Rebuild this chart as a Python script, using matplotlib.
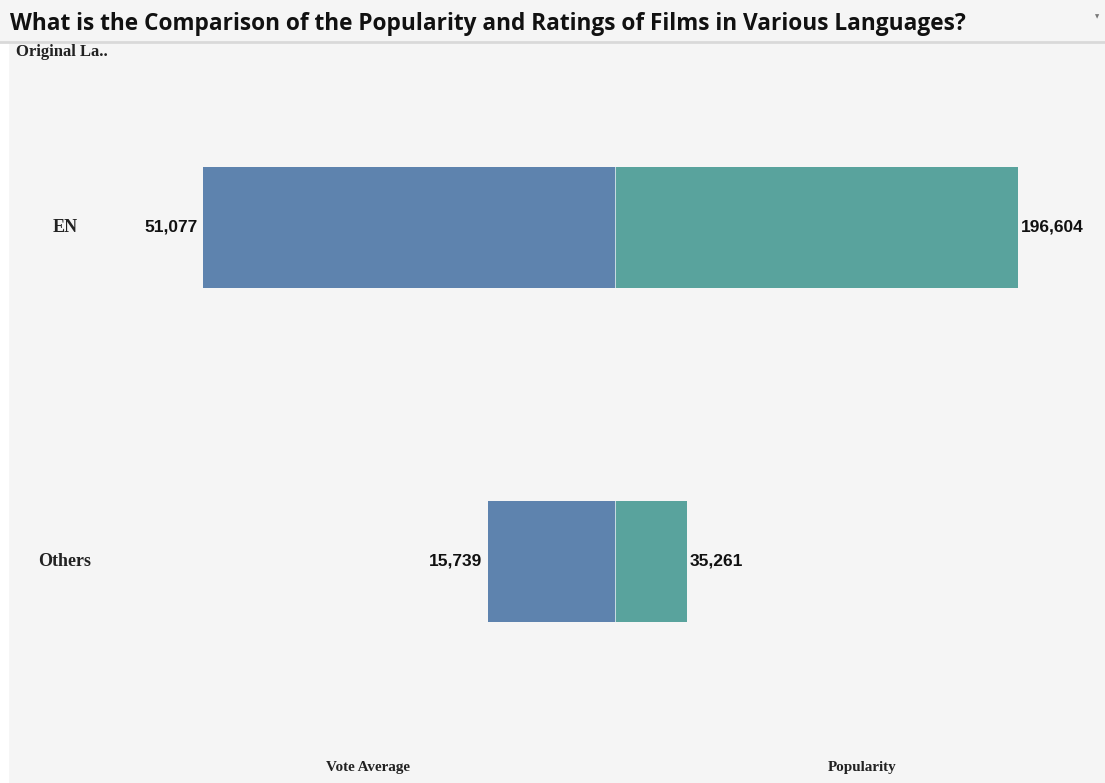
import matplotlib.pyplot as plt
import numpy as np

languages = ['EN', 'Others']
vote_average = [51077, 15739]
popularity = [196604, 35261]

W, H = 1105, 783
bg = '#f5f5f5'
blue = '#5e83ae'
teal = '#59a39d'

fig = plt.figure(figsize=(W / 100, H / 100), dpi=100, facecolor=bg)

def fx(px):
    return px / W

def fy(px):
    return 1 - px / H

# white strip on the left, under the title line
fig.patches.append(plt.Rectangle((0, 0), fx(8), fy(43), transform=fig.transFigure,
                                 color='white', zorder=0))
fig.add_artist(plt.Line2D([0, 1], [fy(42), fy(42)], color='#d9d9d9', lw=2))

fig.text(fx(10), fy(24), 'What is the Comparison of the Popularity and Ratings of Films in Various Languages?',
         fontsize=16.3, fontweight='bold', family='Open Sans', va='center', ha='left', color='#111111')
fig.text(fx(1097), fy(17), '\u25bc', fontsize=4, color='#777777', ha='center', va='center')
fig.text(fx(16), fy(52), 'Original La..', fontsize=12, fontweight='bold', family='Liberation Serif',
         va='center', ha='left', color='#222222')

center = 615
top, bottom = 45, 745
left_px, right_px = 120, 1100
pos = np.arange(len(languages))
row_px = 561.5 - 227.5
y_top = -(227.5 - top) / row_px
y_bot = 1 + (bottom - 561.5) / row_px
bar_h = 121 / row_px

axl = fig.add_axes([fx(left_px), fy(bottom), fx(center - left_px), (bottom - top) / H])
axr = fig.add_axes([fx(center), fy(bottom), fx(right_px - center), (bottom - top) / H])

scale_l = 412 / 51077
scale_r = 403 / 196604
axl.set_xlim((center - left_px) / scale_l, 0)
axr.set_xlim(0, (right_px - center) / scale_r)

for ax in (axl, axr):
    ax.set_facecolor('none')
    ax.set_ylim(y_bot, y_top)
    ax.set_xticks([])
    ax.set_yticks([])
    for s in ax.spines.values():
        s.set_visible(False)

axl.barh(pos, vote_average, height=bar_h, color=blue)
axr.barh(pos, popularity, height=bar_h, color=teal)
# thin light divider where the two bars meet
axr.vlines(np.zeros(len(pos)), pos - bar_h / 2, pos + bar_h / 2, color='#dde6ee', lw=1.2)

for p, v in zip(pos, vote_average):
    axl.annotate(f'{v:,}', (v, p), xytext=(-4, 0), textcoords='offset points', ha='right', va='center',
                 fontsize=12.5, fontweight='bold', family='Liberation Sans', color='#111111')
for p, v in zip(pos, popularity):
    axr.annotate(f'{v:,}', (v, p), xytext=(2, 0), textcoords='offset points', ha='left', va='center',
                 fontsize=12.5, fontweight='bold', family='Liberation Sans', color='#111111')

for p, lab in zip(pos, languages):
    yp = 227.5 + p * row_px
    fig.text(fx(65), fy(yp), lab, fontsize=13, fontweight='bold', family='Liberation Serif',
             ha='center', va='center', color='#222222')

fig.text(fx(368), fy(767), 'Vote Average', fontsize=10.9, fontweight='bold', family='Liberation Serif',
         ha='center', va='center', color='#222222')
fig.text(fx(862), fy(767), 'Popularity', fontsize=10.9, fontweight='bold', family='Liberation Serif',
         ha='center', va='center', color='#222222')

fig.savefig('out.png', dpi=100, facecolor=bg)
